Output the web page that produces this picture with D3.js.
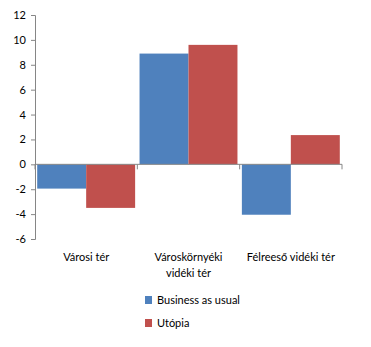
<!DOCTYPE html>
<html><head><meta charset="utf-8">
<script src="https://cdn.jsdelivr.net/npm/d3@7"></script>
<style>body{margin:0;background:#fff}svg{display:block}text{font-family:Lato,"Open Sans",sans-serif;font-size:11px;fill:#000}</style>
</head><body><svg id="c" width="371" height="347"></svg>
<script>
const categories = [["Városi tér"], ["Városkörnyéki", "vidéki tér"], ["Félreeső vidéki tér"]];
const seriesNames = ["Business as usual", "Utópia"];
const businessAsUsual = [-1.95, 8.9, -4.05];
const utopia = [-3.5, 9.6, 2.35];
const yTicks = [-6, -4, -2, 0, 2, 4, 6, 8, 10, 12];
const colors = ["#4F81BD", "#C0504D"];
const series = [businessAsUsual, utopia];

const svg = d3.select("#c");
const x0 = 35, x1 = 342, yTop = 15, yBot = 239;
const y = d3.scaleLinear().domain([-6, 12]).range([yBot, yTop]);
const xc = d3.scaleBand().domain(d3.range(categories.length)).range([x0, x1]).padding(0);
const xs = d3.scaleBand().domain(d3.range(series.length)).range([0, xc.bandwidth()]).paddingInner(0).paddingOuter(0.045);

// bars
series.forEach((vals, si) => {
  svg.append("g").selectAll("rect").data(vals).join("rect")
    .attr("x", (d, i) => xc(i) + xs(si))
    .attr("width", xs.bandwidth())
    .attr("y", d => y(Math.max(0, d)))
    .attr("height", d => Math.abs(y(d) - y(0)))
    .attr("fill", colors[si]);
});

// y axis
const ya = svg.append("g").attr("transform", `translate(${x0},0)`)
  .call(d3.axisLeft(y).tickValues(yTicks).tickSize(4).tickPadding(5).tickFormat(d => String(d)));
ya.select(".domain").attr("stroke", "#868686");
ya.selectAll(".tick line").attr("stroke", "#868686");
ya.selectAll("text").style("font-size", "11px");

// x axis at zero
const xa = svg.append("g").attr("transform", `translate(0,${y(0)})`);
xa.append("line").attr("x1", x0).attr("x2", x1).attr("stroke", "#868686");
const bounds = d3.range(categories.length + 1).map(i => i < categories.length ? xc(i) : x1);
xa.selectAll("line.t").data(bounds).join("line").attr("class", "t")
  .attr("x1", d => d).attr("x2", d => d).attr("y1", 0).attr("y2", 5).attr("stroke", "#868686");

// category labels
categories.forEach((lines, i) => {
  const t = svg.append("text").attr("text-anchor", "middle")
    .attr("x", xc(i) + xc.bandwidth() / 2).attr("y", 261);
  lines.forEach((l, j) => t.append("tspan").attr("x", xc(i) + xc.bandwidth() / 2).attr("dy", j ? 16 : 0).text(l));
});

// legend
seriesNames.forEach((n, i) => {
  const g = svg.append("g").attr("transform", `translate(145,${296 + i * 23})`);
  g.append("rect").attr("width", 7).attr("height", 8).attr("fill", colors[i]);
  g.append("text").attr("x", 12).attr("y", 8).text(n);
});
</script></body></html>
